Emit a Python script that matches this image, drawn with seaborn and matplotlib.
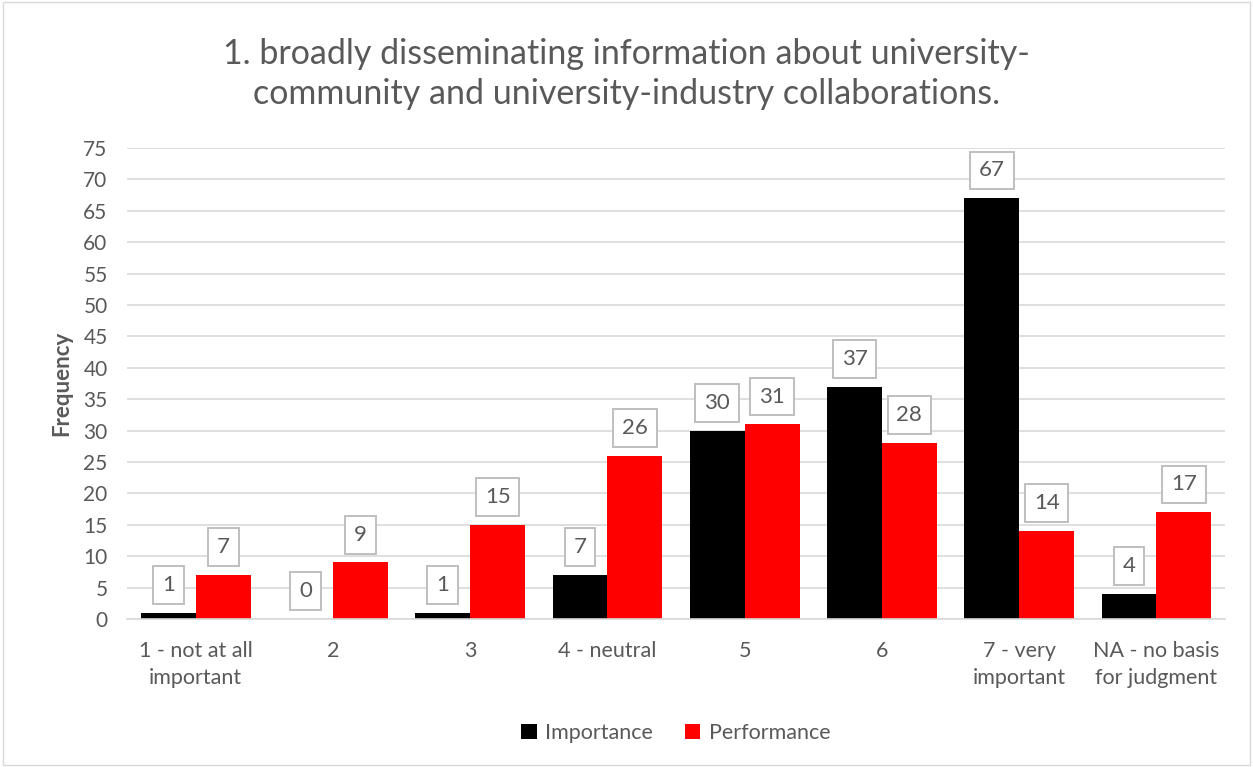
import pandas as pd
import matplotlib.pyplot as plt
import seaborn as sns

categories = ['1 - not at all\nimportant', '2', '3', '4 - neutral', '5', '6',
              '7 - very\nimportant', 'NA - no basis\nfor judgment']
importance = [1, 0, 1, 7, 30, 37, 67, 4]
performance = [7, 9, 15, 26, 31, 28, 14, 17]
series = ['Importance', 'Performance']
colors = ['#000000', '#ff0000']

df = pd.DataFrame({
    'cat': categories * 2,
    'value': importance + performance,
    'series': [series[0]] * len(categories) + [series[1]] * len(categories),
})

sns.set_style('white')
plt.rcParams['font.family'] = ['Lato', 'DejaVu Sans']
grey = '#595959'

fig = plt.figure(figsize=(12.53, 7.67), dpi=100)
ax = fig.add_axes([0.1014, 0.193, 0.8763, 0.614])
sns.barplot(data=df, x='cat', y='value', hue='series', palette=colors,
            width=0.8, gap=0, saturation=1, linewidth=0, ax=ax, legend=True)

ax.set_ylim(0, 75)
ax.set_yticks(range(0, 76, 5))
ax.set_xlim(-0.5, len(categories) - 0.5)
ax.yaxis.grid(True, color='#d9d9d9', linewidth=1.2)
ax.set_axisbelow(True)
for s in ['top', 'right', 'left']:
    ax.spines[s].set_visible(False)
ax.spines['bottom'].set_color('#d9d9d9')
ax.spines['bottom'].set_linewidth(1.2)
ax.tick_params(axis='y', length=0, labelsize=15, labelcolor=grey, pad=14)
ax.tick_params(axis='x', length=0, labelsize=15.5, labelcolor=grey, pad=16)
for t in ax.get_xticklabels():
    t.set_linespacing(1.45)
ax.set_xticks([i - 0.5 for i in range(len(categories) + 1)], minor=True)
ax.tick_params(axis='x', which='minor', length=6, color='#d9d9d9', width=1.2)
ax.set_xlabel('')
ax.set_ylabel('Frequency', fontsize=16, fontweight='bold', color=grey, labelpad=8)

for cont in ax.containers:
    for bar in cont:
        h = bar.get_height()
        ax.annotate(f'{int(h)}', (bar.get_x() + bar.get_width() / 2, h),
                    xytext=(0, 20), textcoords='offset points',
                    ha='center', va='center', fontsize=16, color=grey,
                    bbox=dict(boxstyle='square,pad=0.4', fc='white',
                              ec='#bfbfbf', lw=1.4))

ax.legend(loc='upper center', bbox_to_anchor=(0.5, -0.18), ncol=2,
          frameon=False, fontsize=15.5, handlelength=0.7, handleheight=0.7,
          columnspacing=1.5, handletextpad=0.4, labelcolor=grey)

fig.suptitle('1. broadly disseminating information about university-\n'
             'community and university-industry collaborations.',
             fontsize=24.5, color=grey, y=0.95, linespacing=1.3)

fig.patches.append(plt.Rectangle((0.002, 0.002), 0.996, 0.996, transform=fig.transFigure,
                                 fill=False, ec='#d9d9d9', lw=1))

fig.savefig('out.png', dpi=100, facecolor='white')
